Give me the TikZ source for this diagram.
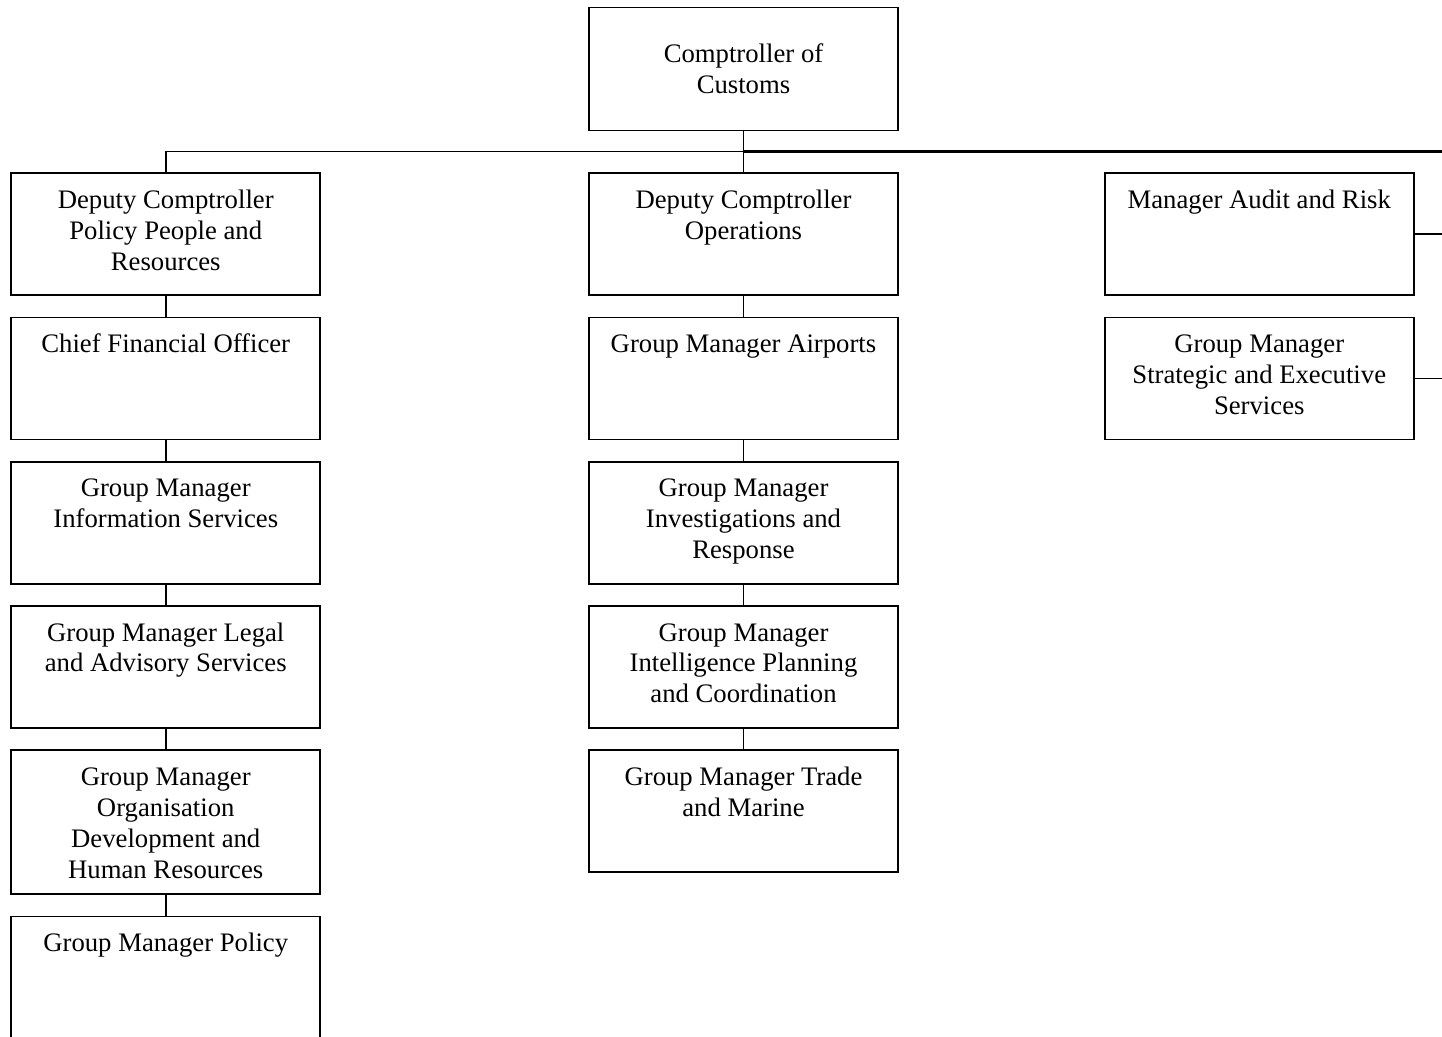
\documentclass[tikz,border=0pt]{standalone}
\usepackage{fontspec}
\setmainfont{Liberation Serif}
\usetikzlibrary{positioning}
\newcommand{\postbox}[2][2.44cm]{\parbox[c][#1][t]{6.18cm}{\centering\vspace*{7.6pt}\strut#2}}

\begin{document}
\begin{tikzpicture}[node distance=0.41cm, font=\fontsize{15.2}{17.6}\selectfont,
  post/.style={draw, line width=1pt, inner sep=0pt, minimum width=6.18cm},
  link/.style={line width=0.9pt}]
\useasboundingbox (0,0) rectangle (28.84,-20.72);
\node[draw, line width=1pt, minimum width=6.18cm, minimum height=2.46cm, align=center] (comptroller) at (14.87,-1.38) {Comptroller of\\Customs};
% middle column
\node[post, below=0.82cm of comptroller] (opsdep) {\postbox{Deputy Comptroller\\Operations}};
\node[post, below=of opsdep] (airports) {\postbox{Group Manager Airports}};
\node[post, below=of airports] (invest) {\postbox{Group Manager\\Investigations and\\Response}};
\node[post, below=of invest] (intel) {\postbox{Group Manager\\Intelligence Planning\\and Coordination}};
\node[post, below=of intel] (trade) {\postbox{Group Manager Trade\\and Marine}};
% left column
\node[post, left=5.34cm of opsdep] (pprdep) {\postbox{Deputy Comptroller\\Policy People and\\Resources}};
\node[post, below=of pprdep] (cfo) {\postbox{Chief Financial Officer}};
\node[post, below=of cfo] (infosvc) {\postbox{Group Manager\\Information Services}};
\node[post, below=of infosvc] (legal) {\postbox{Group Manager Legal\\and Advisory Services}};
\node[post, below=of legal] (orgdev) {\postbox[2.88cm]{Group Manager\\Organisation\\Development and\\Human Resources}};
\node[post, below=of orgdev] (policy) {\postbox[2.7cm]{Group Manager Policy}};
% right column
\node[post, right=4.10cm of opsdep] (audit) {\postbox{Manager Audit and Risk}};
\node[post, below=of audit] (strategic) {\postbox{Group Manager\\Strategic and Executive\\Services}};

\coordinate[below=0.40cm of comptroller] (bus);
\path (bus) ++(14,0) coordinate (busend);
\coordinate (auditend) at (audit.east -| busend);
\coordinate (strategicend) at (strategic.east -| busend);

\draw[link] (comptroller) -- (opsdep);
\draw[link] (pprdep.north) |- (bus);
\draw[link, line width=1.3pt] (bus) -- (busend);
\foreach \a/\b in {pprdep/cfo, cfo/infosvc, infosvc/legal, legal/orgdev, orgdev/policy,
  opsdep/airports, airports/invest, invest/intel, intel/trade}
  \draw[link] (\a) -- (\b);
\draw[link] (audit.east) -- (auditend);
\draw[link] (strategic.east) -- (strategicend);
\end{tikzpicture}
\end{document}
